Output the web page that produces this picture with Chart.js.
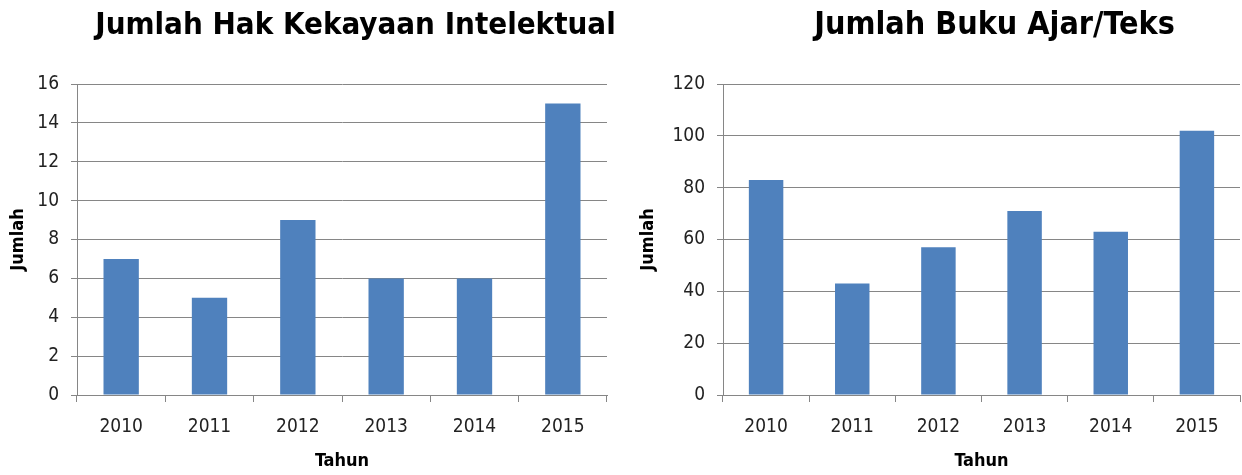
<!DOCTYPE html>
<html>
<head>
<meta charset="utf-8">
<script src="https://cdn.jsdelivr.net/npm/chart.js@4"></script>
<style>
  body { margin: 0; background: #fff; }
  .box { position: absolute; top: 0; width: 621px; height: 475px; }
</style>
</head>
<body>
<div class="box" style="left:0"><canvas id="chart1"></canvas></div>
<div class="box" style="left:621px"><canvas id="chart2"></canvas></div>
<script>
const years = ['2010', '2011', '2012', '2013', '2014', '2015']
const hakiCount = [7, 5, 9, 6, 6, 15]
const bukuCount = [83, 43, 57, 71, 63, 102]

const narrow = "'Liberation Sans Narrow', 'DejaVu Sans Condensed', sans-serif"
const gridGray = '#868686'

// shift the title sideways, the reference titles sit right of centre
const shiftTitle = {
  id: 'shiftTitle',
  afterLayout(chart, args, opts) {
    const t = chart.titleBlock
    t.left += opts.dx
    t.right += opts.dx
  }
}

function makeChart(id, title, titleSize, values, yMax, yStep, yWidth, yTitlePad, padRight, dx) {
  const ctx = document.getElementById(id).getContext('2d')
  const titleLine = titleSize * 1.2
  return new Chart(ctx, {
    type: 'bar',
    data: {
      labels: years,
      datasets: [{
        label: title,
        data: values,
        backgroundColor: '#4f81bd',
        borderWidth: 0,
        barPercentage: 0.4,
        categoryPercentage: 1
      }]
    },
    plugins: [shiftTitle],
    options: {
      responsive: true,
      maintainAspectRatio: false,
      animation: false,
      layout: { padding: { left: 0, right: padRight, top: 0, bottom: 0 } },
      scales: {
        x: {
          afterFit(scale) { scale.height = 80 },
          grid: { offset: true, drawOnChartArea: false, tickLength: 7, color: gridGray },
          border: { color: gridGray },
          ticks: { color: '#222', padding: 14, font: { family: narrow, size: 19 } },
          title: {
            display: true, text: 'Tahun', color: '#000',
            padding: { top: 0, bottom: 3 },
            font: { family: narrow, size: 18, weight: 'bold' }
          }
        },
        y: {
          min: 0,
          max: yMax,
          afterFit(scale) { scale.width = yWidth },
          grid: { tickLength: 6, color: gridGray },
          border: { color: gridGray },
          ticks: { stepSize: yStep, color: '#222', padding: 12, font: { family: narrow, size: 19 } },
          title: {
            display: true, text: 'Jumlah', color: '#000',
            padding: { top: yTitlePad, bottom: 0 },
            font: { family: narrow, size: 18, weight: 'bold' }
          }
        }
      },
      plugins: {
        legend: { display: false },
        tooltip: { enabled: false },
        shiftTitle: { dx: dx },
        title: {
          display: true,
          text: title,
          color: '#000',
          padding: { top: 26 - titleLine / 2, bottom: 84 - 26 - titleLine / 2 },
          font: { family: narrow, size: titleSize, weight: 'bold' }
        }
      }
    }
  })
}

makeChart('chart1', 'Jumlah Hak Kekayaan Intelektual', 31, hakiCount, 16, 2, 77, 8, 14, 52)
makeChart('chart2', 'Jumlah Buku Ajar/Teks', 32, bukuCount, 120, 20, 102, 17, 2, 64)
</script>
</body>
</html>
